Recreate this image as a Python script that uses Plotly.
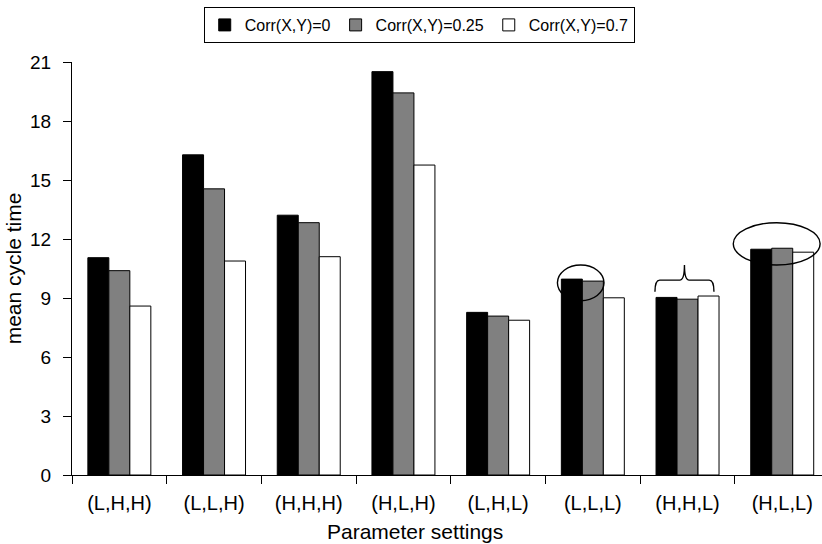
import plotly.graph_objects as go

# Parameter settings on the x axis
categories = ["(L,H,H)", "(L,L,H)", "(H,H,H)", "(H,L,H)",
              "(L,H,L)", "(L,L,L)", "(H,H,L)", "(H,L,L)"]

# Mean cycle time for each correlation level
corr_0 = [11.05, 16.28, 13.21, 20.51, 8.27, 9.96, 9.03, 11.48]
corr_025 = [10.39, 14.55, 12.83, 19.43, 8.08, 9.86, 8.94, 11.53]
corr_07 = [8.59, 10.88, 11.10, 15.76, 7.87, 9.01, 9.10, 11.33]

series_names = ["Corr(X,Y)=0", "Corr(X,Y)=0.25", "Corr(X,Y)=0.7"]
y_ticks = [0, 3, 6, 9, 12, 15, 18, 21]

FONT = "Liberation Sans, Arial, sans-serif"

fig = go.Figure()
for name, vals, color in zip(series_names, [corr_0, corr_025, corr_07],
                             ["#000000", "#808080", "#ffffff"]):
    fig.add_trace(go.Bar(
        x=categories, y=vals, name=name,
        marker=dict(color=color, line=dict(color="#000000", width=1)),
    ))

# Highlight marks: ellipses around groups and a brace over (H,H,L)
shapes = [
    dict(type="circle", xref="x", yref="y", x0=4.626, x1=5.118, y0=8.86, y1=10.68,
         line=dict(color="black", width=1.4), fillcolor="rgba(0,0,0,0)"),
    dict(type="circle", xref="x", yref="y", x0=6.483, x1=7.40, y0=10.68, y1=12.83,
         line=dict(color="black", width=1.4), fillcolor="rgba(0,0,0,0)"),
]
bx0, bx1, by_end, by_line, by_top = 5.656, 6.279, 9.32, 9.91, 10.68
bxm = (bx0 + bx1) / 2
dx = 0.05
brace = (f"M {bx0},{by_end} Q {bx0},{by_line} {bx0 + dx},{by_line} "
         f"L {bxm - dx},{by_line} Q {bxm},{by_line} {bxm},{by_top} "
         f"Q {bxm},{by_line} {bxm + dx},{by_line} "
         f"L {bx1 - dx},{by_line} Q {bx1},{by_line} {bx1},{by_end}")
shapes.append(dict(type="path", xref="x", yref="y", path=brace,
                   line=dict(color="black", width=1.4)))

fig.update_layout(
    width=822, height=544,
    margin=dict(l=72, r=0, t=62, b=69),
    paper_bgcolor="white", plot_bgcolor="white",
    font=dict(family=FONT, size=20, color="black"),
    barmode="group", bargap=0.335, bargroupgap=0,
    shapes=shapes,
    showlegend=True,
    legend=dict(
        orientation="h", xref="container", yref="container",
        x=0.51, xanchor="center", y=1 - 7 / 544, yanchor="top",
        bordercolor="black", borderwidth=1, bgcolor="white",
        font=dict(family=FONT, size=16, color="black"),
        traceorder="normal",
    ),
    xaxis=dict(
        type="category", range=[-0.5, 7.42],
        showline=True, linecolor="black", linewidth=1,
        ticks="outside", tickson="boundaries", ticklen=8, tickcolor="black",
        tickfont=dict(size=20), ticklabelstandoff=10,
        showgrid=False, zeroline=False,
    ),
    yaxis=dict(
        range=[0, 21], tickvals=y_ticks,
        showline=True, linecolor="black", linewidth=1,
        ticks="outside", ticklen=8, tickcolor="black",
        tickfont=dict(size=19), ticklabelstandoff=8,
        showgrid=False, zeroline=False,
        title=dict(text="mean cycle time", font=dict(size=21), standoff=2),
    ),
    annotations=[dict(
        text="Parameter settings", xref="paper", yref="paper",
        x=(415 - 72) / 750, y=(475 - 531) / 413,
        xanchor="center", yanchor="middle",
        showarrow=False, font=dict(family=FONT, size=21, color="black"),
    )],
)

fig.write_html("out.html")
